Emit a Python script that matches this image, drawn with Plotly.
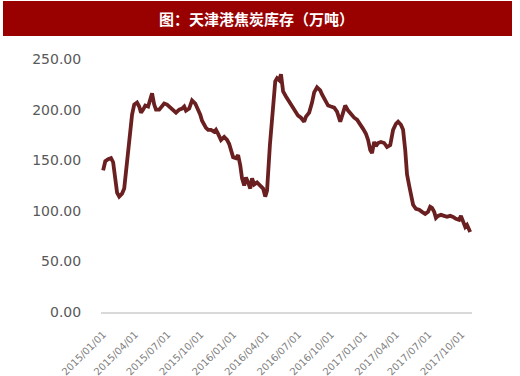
import pandas as pd
import plotly.graph_objects as go

start_date = "2015-01-01"
day_offsets = [0, 6, 14, 22, 28, 34, 39, 45, 53, 59, 64, 70, 76, 81, 87, 95, 101, 106, 112, 118,
               126, 132, 137, 143, 148, 157, 165, 171, 179, 188, 196, 204, 213, 221, 227, 232, 241, 249, 258, 266,
               272, 277, 283, 288, 294, 302, 311, 316, 322, 330, 339, 347, 353, 358, 364, 372, 378, 384, 389, 395,
               400, 406, 412, 417, 423, 431, 440, 448, 454, 459, 467, 476, 482, 487, 493, 498, 504, 512, 521, 529,
               538, 546, 554, 563, 568, 577, 585, 591, 599, 608, 613, 622, 630, 638, 647, 655, 664, 672, 678, 686,
               694, 703, 711, 720, 728, 736, 742, 748, 753, 759, 764, 770, 778, 787, 795, 804, 812, 820, 826, 834,
               840, 846, 851, 857, 862, 868, 876, 885, 893, 902, 910, 916, 921, 927, 932, 938, 946, 955, 963, 972,
               980, 988, 997, 1002, 1008, 1014, 1019, 1025, 1028]
stock = [140, 149, 151, 152, 148, 132, 118, 114, 117, 122, 138, 155, 175, 195, 205, 207, 203, 197, 200, 204,
         203, 210, 216, 205, 200, 200, 204, 206, 205, 202, 200, 197, 200, 201, 203, 199, 201, 209, 206, 200,
         195, 189, 185, 182, 180, 180, 178, 180, 176, 170, 173, 170, 166, 161, 153, 152, 155, 145, 132, 125,
         133, 128, 122, 132, 126, 128, 125, 122, 114, 120, 165, 210, 228, 231, 229, 235, 218, 213, 208, 202,
         197, 194, 192, 188, 193, 197, 207, 217, 222, 219, 215, 209, 204, 203, 202, 198, 188, 197, 204, 199,
         195, 192, 190, 186, 181, 176, 170, 160, 157, 168, 164, 167, 168, 167, 163, 165, 180, 186, 188, 185,
         180, 160, 136, 125, 115, 106, 102, 101, 99, 97, 99, 104, 103, 99, 93, 95, 96, 95, 94, 95,
         94, 92, 91, 95, 88, 84, 86, 82, 79]

dates = pd.to_datetime(start_date) + pd.to_timedelta(day_offsets, unit="D")

title_text = "<b>图：天津港焦炭库存（万吨）</b>"

fig = go.Figure()
fig.add_trace(go.Scatter(x=dates, y=stock, mode="lines",
                         line=dict(color="#6a2020", width=3.8), showlegend=False))

fig.update_layout(
    width=520, height=376,
    margin=dict(l=101, r=48, t=59, b=64, autoexpand=False),
    paper_bgcolor="white", plot_bgcolor="white",
    font=dict(family="DejaVu Sans"),
    xaxis=dict(
        type="date", automargin=False,
        range=["2014-12-26", "2017-10-30"],
        tick0="2015-01-01", dtick="M3", tickformat="%Y/%m/%d",
        tickangle=-45, tickfont=dict(size=10, color="#7f7f7f"),
        showgrid=False, zeroline=False,
        showline=True, linecolor="#d9d9d9", linewidth=1.5,
        ticks="outside", ticklen=11, tickcolor="rgba(0,0,0,0)",
    ),
    yaxis=dict(
        range=[0, 250], dtick=50, tickformat=".2f", automargin=False,
        tickfont=dict(size=14, color="#595959"),
        showgrid=False, zeroline=False, showline=False,
        ticks="outside", ticklen=16, tickcolor="rgba(0,0,0,0)",
    ),
    shapes=[dict(type="rect", xref="paper", yref="paper",
                 x0=(3 - 101) / 371, x1=(512 - 101) / 371,
                 y0=(312 - 36) / 253, y1=(312 - 1) / 253,
                 fillcolor="#990000", line=dict(width=0), layer="below")],
    annotations=[dict(text=title_text, xref="paper", yref="paper",
                      x=(256 - 101) / 371, y=(312 - 18.5) / 253,
                      xanchor="center", yanchor="middle", showarrow=False,
                      font=dict(family="Noto Sans CJK SC", size=15, color="white"))],
)

fig.write_html("out.html", config={"displayModeBar": False},
               post_script="document.body.style.margin='0px';document.body.style.padding='0px';")
